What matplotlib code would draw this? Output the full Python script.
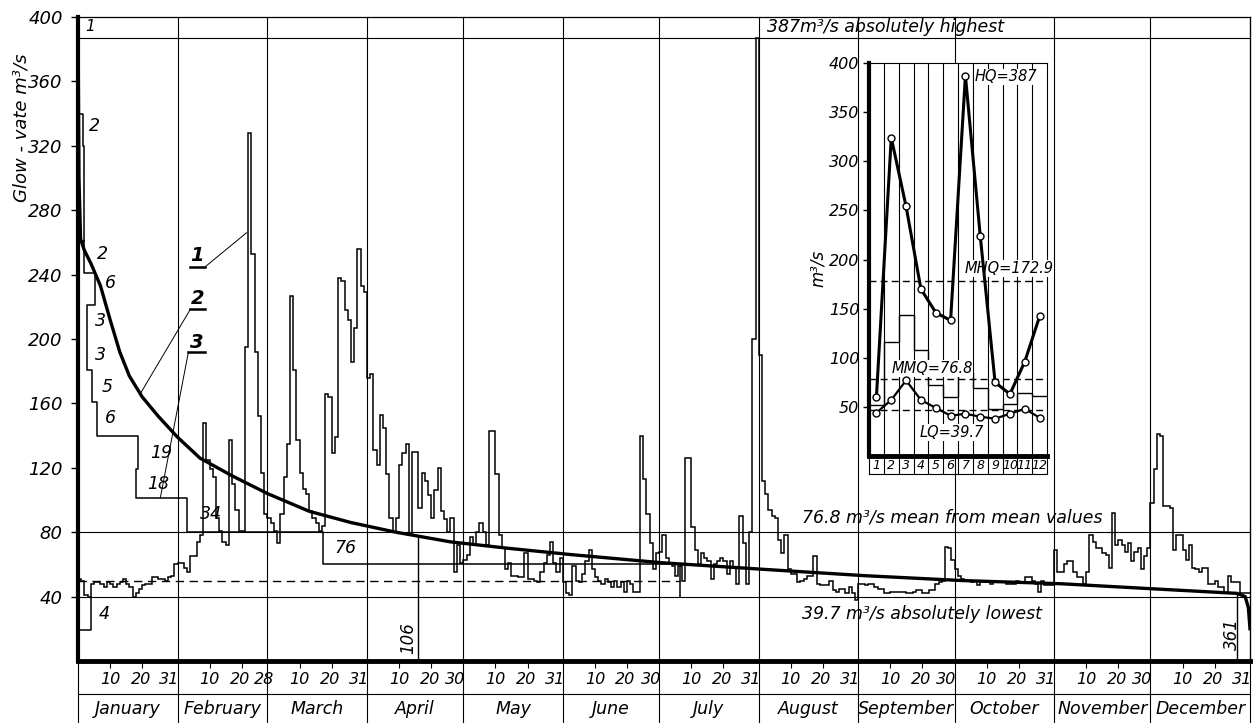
import numpy as np
import matplotlib
matplotlib.use('Agg')
import matplotlib.pyplot as plt

# curve 1: daily discharge (m3/s)
jan = [51, 50, 41, 40, 48, 49, 49, 48, 46, 49, 48, 46, 48, 49, 51, 48, 46, 40, 42, 45,
       47, 48, 48, 52, 52, 51, 51, 50, 52, 53, 60]
feb = [61, 61, 58, 55, 65, 65, 74, 78, 148, 125, 119, 114, 89, 81, 74, 72, 137, 110, 94, 81,
       81, 195, 328, 253, 192, 152, 117, 91]
mar = [89, 86, 81, 73, 91, 114, 135, 227, 181, 137, 117, 107, 104, 93, 89, 86, 81, 84, 166, 164,
       129, 139, 238, 236, 218, 212, 186, 207, 256, 233, 229]
apr = [176, 178, 131, 122, 153, 145, 116, 89, 80, 89, 122, 129, 135, 78, 130, 130, 95, 117, 112, 103,
       89, 106, 120, 93, 88, 80, 89, 55, 72, 61]
may = [63, 66, 77, 72, 80, 86, 80, 72, 143, 143, 116, 78, 70, 57, 61, 53, 53, 52, 52, 67,
       51, 51, 50, 49, 55, 61, 66, 74, 61, 55, 64]
jun = [49, 42, 41, 59, 50, 49, 54, 62, 69, 57, 52, 50, 48, 51, 49, 46, 50, 46, 49, 43,
       50, 48, 43, 43, 140, 113, 91, 73, 57, 67]
jul = [68, 78, 64, 60, 59, 53, 59, 50, 126, 126, 83, 69, 60, 67, 64, 62, 51, 60, 62, 64,
       62, 54, 62, 58, 48, 90, 73, 48, 80, 200, 387]
aug = [190, 112, 104, 94, 90, 89, 75, 67, 78, 57, 54, 54, 49, 50, 51, 53, 53, 65, 48, 47,
       47, 47, 50, 44, 43, 45, 45, 42, 46, 42, 38]
sep = [48, 48, 47, 48, 48, 46, 45, 45, 42, 42, 43, 43, 43, 43, 43, 42, 42, 43, 44, 44,
       42, 42, 44, 44, 48, 49, 50, 71, 70, 63]
oct_ = [57, 53, 51, 50, 50, 49, 50, 47, 50, 49, 50, 48, 49, 49, 49, 49, 48, 48, 48, 50,
        49, 49, 52, 52, 50, 48, 43, 50, 47, 47, 47]
nov = [69, 55, 55, 60, 62, 62, 55, 52, 52, 48, 55, 78, 74, 70, 70, 67, 66, 58, 92, 72,
       75, 72, 68, 73, 62, 68, 70, 57, 65, 70]
dec = [98, 119, 141, 140, 96, 96, 95, 69, 78, 78, 69, 63, 72, 58, 57, 55, 58, 58, 48, 48,
       50, 46, 46, 42, 53, 49, 49, 49, 42, 42, 42]

month_names = ['January', 'February', 'March', 'April', 'May', 'June', 'July',
               'August', 'September', 'October', 'November', 'December']
month_days = [31, 28, 31, 30, 31, 30, 31, 31, 30, 31, 30, 31]

# curve 2: duration curve (days, m3/s)
dur_days = [0, 0.3, 0.8, 2, 4, 7, 10, 13, 16, 20, 25, 31, 38, 48, 59, 72, 85, 99, 116, 134,
            154, 182, 213, 245, 275, 306, 336, 361, 363.5, 364.5, 365]
dur_vals = [400, 300, 262, 255, 247, 233, 212, 192, 177, 164, 152, 139, 126, 115, 104, 93, 86, 80, 74, 70,
            66, 61, 57, 53, 50, 48, 44.7, 42, 40, 33, 20]

# curve 3: stepped curve (days, m3/s), nan breaks the line
nan = np.nan
step_days = [0, 1.5, 1.5, 1.9, 1.9, 5.3, 5.3, 2.7, 2.7, 4.3, 4.3, 5.8, 5.8, 18.8, 18.8, 18.1, 18.1,
             34, 34, 76.2, 76.2, 187.5, 187.5, nan, 0, 1.9, nan, 0, 4, 4]
step_vals = [340, 340, 320, 320, 241, 241, 221, 221, 181, 181, 161, 161, 140, 140, 119, 119, 101,
             101, 80, 80, 60, 60, 40, nan, 261, 261, nan, 19.5, 19.5, 40]
step_labels = ['2', '2', '6', '3', '3', '5', '6', '19', '18', '34', '76', '4']
step_label_days = [3.5, 5.9, 8.4, 5.3, 5.3, 7.4, 8.4, 22.5, 21.5, 38, 79.8, 6.3]
step_label_vals = [332, 253, 235, 211, 190, 170, 151, 129, 110, 91, 70, 29]

ref_levels = [387, 80, 40]
dashed_level = 49.5
marked_days = [106, 361]

# inset: monthly values
months = list(range(1, 13))
hq = [60, 324, 254, 170, 146, 138, 387, 224, 75, 63, 96, 142]
lq = [44, 57, 77, 57, 49, 41, 43, 40, 38, 43, 48, 39]
mq = [52, 116, 144, 108, 72, 60, 84, 69, 48, 53, 64, 61]
inset_levels = [178, 78, 47]

IT = dict(fontstyle='italic', family='DejaVu Sans', color='black')
WHITE = dict(facecolor='white', edgecolor='none', pad=0.5)

daily = np.concatenate([jan, feb, mar, apr, may, jun, jul, aug, sep, oct_, nov, dec])
bounds = np.concatenate([[0], np.cumsum(month_days)])

fig = plt.figure(figsize=(12.53, 7.23), dpi=100)
ax = fig.add_axes([78 / 1253, 62 / 723, 1172 / 1253, 644 / 723])
ax.set_xlim(0, 365)
ax.set_ylim(0, 400)

ax.stairs(daily, np.arange(366), baseline=None, color='black', lw=1.1, zorder=3)
ax.plot(dur_days, dur_vals, color='black', lw=2.4, zorder=4)
ax.plot(step_days, step_vals, color='black', lw=1.1, zorder=3)
for lev in ref_levels:
    ax.axhline(lev, color='black', lw=0.8, zorder=2)
ax.plot([0, 187.5], [dashed_level, dashed_level], color='black', lw=1, ls=(0, (6, 4)), zorder=2)
for d in marked_days:
    ax.plot([d, d], [0, np.interp(d, dur_days, dur_vals)], color='black', lw=1, zorder=2)

for t, d, v in zip(step_labels, step_label_days, step_label_vals):
    ax.text(d, v, t, fontsize=12.5, ha='left', va='center', **IT)
ax.text(2.2, 394, '1', fontsize=11, ha='left', va='center', **IT)
ax.text(102.7, 14, '106', fontsize=12, rotation=90, ha='center', va='center', **IT)
ax.text(359.5, 17, '361', fontsize=12, rotation=90, ha='center', va='center', **IT)

ax.text(214.5, 394, '387m³/s absolutely highest', fontsize=12.5, ha='left', va='center', **IT)
ax.text(225.5, 89, '76.8 m³/s mean from mean values', fontsize=12.5, ha='left', va='center', **IT)
ax.text(225.5, 29, '39.7 m³/s absolutely lowest', fontsize=12.5, ha='left', va='center', **IT)

# numbered leaders
ax.text(37.1, 252, '1', fontsize=14, fontweight='bold', ha='center', va='center', **IT)
ax.text(37.4, 225, '2', fontsize=14, fontweight='bold', ha='center', va='center', **IT)
ax.text(37.1, 198, '3', fontsize=14, fontweight='bold', ha='center', va='center', **IT)
ax.plot([35, 39.7], [245, 245], color='black', lw=1.8)
ax.plot([39.7, 52.5], [245, 266], color='black', lw=0.7)
ax.plot([35, 39.7], [218.5, 218.5], color='black', lw=1.8)
ax.plot([35, 19.4], [218.5, 166], color='black', lw=0.7)
ax.plot([34.4, 39.4], [192, 192], color='black', lw=1.8)
ax.plot([34.4, 25.6], [192, 101], color='black', lw=0.7)

# frame
ax.spines['left'].set_linewidth(3)
ax.spines['bottom'].set_linewidth(3.5)
ax.spines['top'].set_linewidth(0.9)
ax.spines['right'].set_linewidth(0.9)

ax.set_yticks(np.arange(40, 401, 40))
ax.set_yticklabels([str(v) for v in range(40, 401, 40)], fontsize=13, **IT)
ax.tick_params(axis='y', length=5, width=1, pad=6)

ticks = []
xt = ax.get_xaxis_transform()
for i, n in enumerate(month_days):
    s = bounds[i]
    ticks += [s + 10, s + 20]
    end_shift = 1.2 if n == 28 else 2.5
    ax.text(s + 10, -0.0295, '10', transform=xt, fontsize=11.5, ha='center', va='center', **IT)
    ax.text(s + 19.5, -0.0295, '20', transform=xt, fontsize=11.5, ha='center', va='center', **IT)
    ax.text(s + n - end_shift, -0.0295, str(n), transform=xt, fontsize=11.5, ha='center', va='center', **IT)
    ax.text(s + n / 2, -0.075, month_names[i], transform=xt, fontsize=12.5, ha='center', va='center', **IT)
ax.set_xticks(ticks)
ax.set_xticklabels([])
ax.tick_params(axis='x', length=5, width=0.8)

for b in bounds:
    ax.plot([b, b], [-0.1, 1], transform=xt, color='black', lw=0.8, clip_on=False, zorder=2)
ax.plot([0, 365], [-0.0512, -0.0512], transform=xt, color='black', lw=0.8, clip_on=False)

fig.text(22 / 1253, 1 - 128 / 723, 'Glow - vate m³/s', rotation=90, fontsize=13,
         ha='center', va='center', **IT)

# inset
axi = fig.add_axes([869 / 1253, 267 / 723, 178 / 1253, 393 / 723], zorder=5)
axi.set_facecolor('white')
axi.set_xlim(0.5, 12.5)
axi.set_ylim(0, 400)
axi.vlines(np.arange(1.5, 12.5, 1), 0, 400, color='black', lw=0.8)
axi.stairs(mq, np.arange(0.5, 13, 1), baseline=None, color='black', lw=1)
for lev in inset_levels:
    axi.axhline(lev, color='black', lw=1, ls=(0, (5, 3)))
axi.plot(months, hq, '-o', color='black', lw=2.2, ms=5, mfc='white', mec='black', mew=1, zorder=4)
axi.plot(months, lq, '-o', color='black', lw=1.6, ms=5, mfc='white', mec='black', mew=1, zorder=4)
axi.text(7.6, 386, 'HQ=387', fontsize=10.5, ha='left', va='center', bbox=WHITE, **IT)
axi.text(6.95, 191, 'MHQ=172.9', fontsize=10.5, ha='left', va='center', bbox=WHITE, **IT)
axi.text(2.0, 89, 'MMQ=76.8', fontsize=10.5, ha='left', va='center', bbox=WHITE, **IT)
axi.text(3.9, 24, 'LQ=39.7', fontsize=10.5, ha='left', va='center', bbox=WHITE, **IT)

axi.spines['left'].set_linewidth(3)
axi.spines['bottom'].set_linewidth(3.5)
axi.spines['top'].set_linewidth(0.8)
axi.spines['right'].set_linewidth(0.8)
axi.set_yticks(np.arange(50, 401, 50))
axi.set_yticklabels([str(v) for v in range(50, 401, 50)], fontsize=11.5, **IT)
axi.tick_params(axis='y', length=4, width=1, pad=3)
axi.set_xticks([])

xti = axi.get_xaxis_transform()
axi.plot([0.5, 12.5], [-0.046, -0.046], transform=xti, color='black', lw=0.8, clip_on=False)
for k in range(13):
    axi.plot([k + 0.5, k + 0.5], [-0.046, 0], transform=xti, color='black', lw=0.8, clip_on=False)
for m in months:
    axi.text(m, -0.024, str(m), transform=xti, fontsize=9, ha='center', va='center', **IT)
fig.text(818 / 1253, 1 - 268 / 723, 'm³/s', rotation=90, fontsize=12, ha='center', va='center', **IT)

fig.savefig('out.png', dpi=100, facecolor='white')
